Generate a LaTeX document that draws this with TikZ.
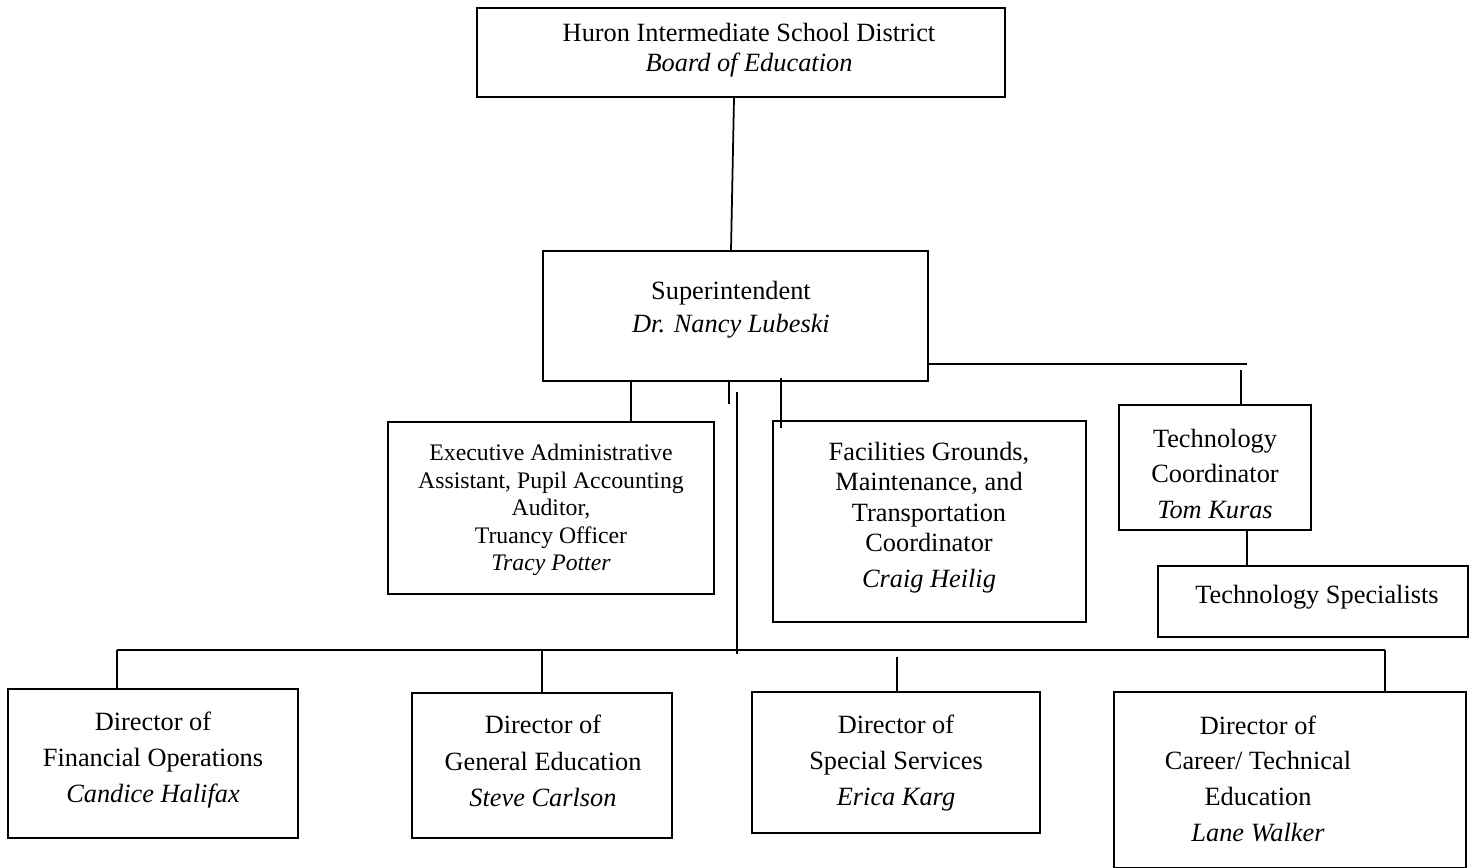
\documentclass[tikz,border=0pt]{standalone}
\usepackage{fontspec}
\setmainfont{Liberation Serif}
\usetikzlibrary{positioning}

\tikzset{
  box/.style={draw, line width=1pt, inner sep=0pt},
  txt/.style={align=center, inner sep=0pt, font=\fontsize{15}{#1}\selectfont},
  txt/.default=17,
  link/.style={line width=1pt}
}

\begin{document}
\begin{tikzpicture}[x=0.02cm,y=-0.02cm]
\useasboundingbox (0,0) rectangle (1476,868);

% boxes
\node[box, minimum width=10.56cm, minimum height=1.78cm] (board) at (741,52.5) {};
\node[box, minimum width=7.70cm, minimum height=2.60cm] (super) at (735.5,316) {};
\node[box, minimum width=6.52cm, minimum height=3.44cm] (exec) at (551,508) {};
\node[box, minimum width=6.26cm, minimum height=4.02cm] (facil) at (929.5,521.5) {};
\node[box, minimum width=3.84cm, minimum height=2.50cm] (techc) at (1215,467.5) {};
\node[box, minimum width=6.20cm, minimum height=1.42cm] (techs) at (1313,601.5) {};
\node[box, minimum width=5.80cm, minimum height=2.98cm] (dfin) at (153,763.5) {};
\node[box, minimum width=5.20cm, minimum height=2.90cm] (dgen) at (542,765.5) {};
\node[box, minimum width=5.76cm, minimum height=2.82cm] (dspec) at (896,762.5) {};
\node[box, minimum width=7.04cm, minimum height=3.52cm] (dcar) at (1290,780) {};

% texts
\node[txt=17] (boardtxt) at (749,50)
    {Huron Intermediate School District\\\textit{Board of Education}};
\node[txt=18.7] (supertxt) at (731,310)
    {Superintendent\\\textit{Dr. Nancy Lubeski}};
\node[txt, font=\fontsize{13.5}{15.6}\selectfont] (exectxt) at (551,510)
    {Executive Administrative\\Assistant, Pupil Accounting\\Auditor,\\Truancy Officer\\\textit{Tracy Potter}};
\node[txt=17.3] (faciltxt) at (929,517.5)
    {Facilities Grounds,\\Maintenance, and\\Transportation\\Coordinator\\[3pt]\textit{Craig Heilig}};
\node[txt=20.4] (techctxt) at (1215,474)
    {Technology\\Coordinator\\\textit{Tom Kuras}};
\node[txt] (techstxt) at (1317,597) {Technology Specialists};
\node[txt=20.4] (dfintxt) at (153,760)
    {Director of\\Financial Operations\\\textit{Candice Halifax}};
\node[txt=20.7] (dgentxt) at (543,761)
    {Director of\\General Education\\\textit{Steve Carlson}};
\node[txt=20.7] (dspectxt) at (896,763)
    {Director of\\Special Services\\\textit{Erica Karg}};
\node[txt=20.3] (dcartxt) at (1258,778.5)
    {Director of\\Career/ Technical\\Education\\\textit{Lane Walker}};

% connector points
\coordinate (e1) at (631,381);
\coordinate (c1) at (729,404);
\coordinate (vtop) at (737,392);
\coordinate (vbot) at (737,654);
\coordinate (f1) at (781,378);
\coordinate (f2) at (781,428);
\coordinate (t1) at (1247,364);
\coordinate (t2) at (1241,370);
\coordinate (t3) at (1247,530);
\coordinate (hl) at (117,650);
\coordinate (hr) at (1385,650);
\coordinate (s1) at (897,657);

% connectors
\draw[link] ([xshift=-0.14cm]board.south) -- ([xshift=-0.09cm]super.north);
\draw[link] (e1) -- (e1 |- exec.north);
\draw[link] (super.south -| c1) -- (c1);
\draw[link] (vtop) -- (vbot);
\draw[link] (f1) -- (f2);
\draw[link] (super.east |- t1) -- (t1);
\draw[link] (t2) -- (t2 |- techc.north);
\draw[link] (t3) -- (t3 |- techs.north);
\draw[link] (hl) -- (hr);
\draw[link] (hl) -- (hl |- dfin.north);
\draw[link] (hl -| dgen.north) -- (dgen.north);
\draw[link] (s1) -- (s1 |- dspec.north);
\draw[link] (hr) -- (hr |- dcar.north);
\end{tikzpicture}
\end{document}
